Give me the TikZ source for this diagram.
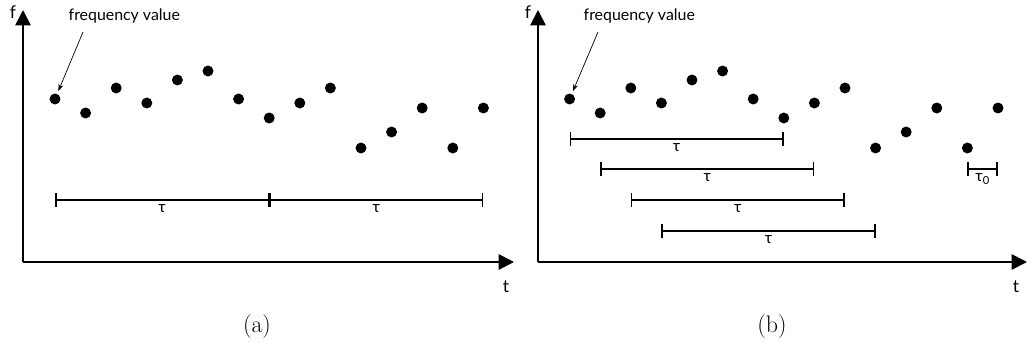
\documentclass[tikz,border=0pt]{standalone}
\usepackage{fontspec}
\newfontfamily\rotulofonte{Lato}
\usetikzlibrary{arrows.meta, positioning, calc}

\tikzset{
  ponto/.style={circle, fill=black, inner sep=0pt, minimum size=7.8pt},
  eixo/.style={line width=1.3pt, -{Triangle[length=11pt, width=11pt]}},
  intervalo/.style={line width=1.1pt, {Bar[width=10pt]}-{Bar[width=10pt]}},
  rotulo/.style={font=\rotulofonte\fontsize{11.3}{13}\selectfont, inner sep=1pt},
  eixonome/.style={font=\rotulofonte\fontsize{12.5}{14}\selectfont, inner sep=1pt},
  legenda/.style={font=\fontsize{17}{19}\selectfont}
}

\begin{document}
\begin{tikzpicture}[x=0.025cm, y=-0.025cm]
\useasboundingbox (0,0) rectangle (1027,349);

% --- PAINEL (a) ---
% LAYER 1: Eixos
\coordinate (oa) at (23,262);
\coordinate (fa) at (23,10);
\coordinate (ta) at (514,262);
\draw[eixo] (oa) -- (fa);
\draw[eixo] (oa) -- (ta);
\node[eixonome] (fla) at (13,12) {f};
\node[eixonome] (tla) at (506,287) {t};

% LAYER 2: Pontos de frequencia
\foreach \y [count=\i] in {99,113,88,103,80,71,99,118,103,88,148,132,108,148,108}
  \node[ponto] (a\i) at ({55+30.6*(\i-1)}, \y) {};

% LAYER 3: Rotulo com seta
\node[rotulo, anchor=base west] (va) at (67,20) {frequency value};
\coordinate (sa) at (83,32);
\draw[-{Stealth[length=5pt, width=3.5pt]}, line width=0.5pt, shorten >=2pt] (sa) -- (a1);

% LAYER 4: Intervalos tau
\draw[intervalo] (a1 |- 0,200) -- (a8 |- 0,200) node[midway, below=2pt, rotulo] (ua1) {τ};
\draw[intervalo] (a8 |- 0,200) -- (a15 |- 0,200) node[midway, below=2pt, rotulo] (ua2) {τ};

\node[legenda] (capa) at (257,327) {(a)};

% --- PAINEL (b) ---
% LAYER 1: Eixos
\coordinate (ob) at (538,262);
\coordinate (fb) at (538,10);
\coordinate (tb) at (1027,262);
\draw[eixo] (ob) -- (fb);
\draw[eixo] (ob) -- (tb);
\node[eixonome] (flb) at (528,12) {f};
\node[eixonome] (tlb) at (1016,287) {t};

% LAYER 2: Pontos de frequencia
\foreach \y [count=\i] in {99,113,88,103,80,71,99,118,103,88,148,132,108,148,108}
  \node[ponto] (b\i) at ({569.6+30.6*(\i-1)}, \y) {};

% LAYER 3: Rotulo com seta
\node[rotulo, anchor=base west] (vb) at (582,20) {frequency value};
\coordinate (sb) at (598,32);
\draw[-{Stealth[length=5pt, width=3.5pt]}, line width=0.5pt, shorten >=2pt] (sb) -- (b1);

% LAYER 4: Intervalos tau sobrepostos
\draw[intervalo] (b1 |- 0,139) -- (b8 |- 0,139) node[midway, below=2pt, rotulo] (ub1) {τ};
\draw[intervalo] (b2 |- 0,169) -- (b9 |- 0,169) node[midway, below=2pt, rotulo] (ub2) {τ};
\draw[intervalo] (b3 |- 0,200) -- (b10 |- 0,200) node[midway, below=2pt, rotulo] (ub3) {τ};
\draw[intervalo] (b4 |- 0,231) -- (b11 |- 0,231) node[midway, below=2pt, rotulo] (ub4) {τ};
\draw[intervalo] (b14 |- 0,169) -- (b15 |- 0,169) node[midway, below=2pt, rotulo] (ub0) {τ\textsubscript{0}};

\node[legenda] (capb) at (772,327) {(b)};
\end{tikzpicture}
\end{document}
